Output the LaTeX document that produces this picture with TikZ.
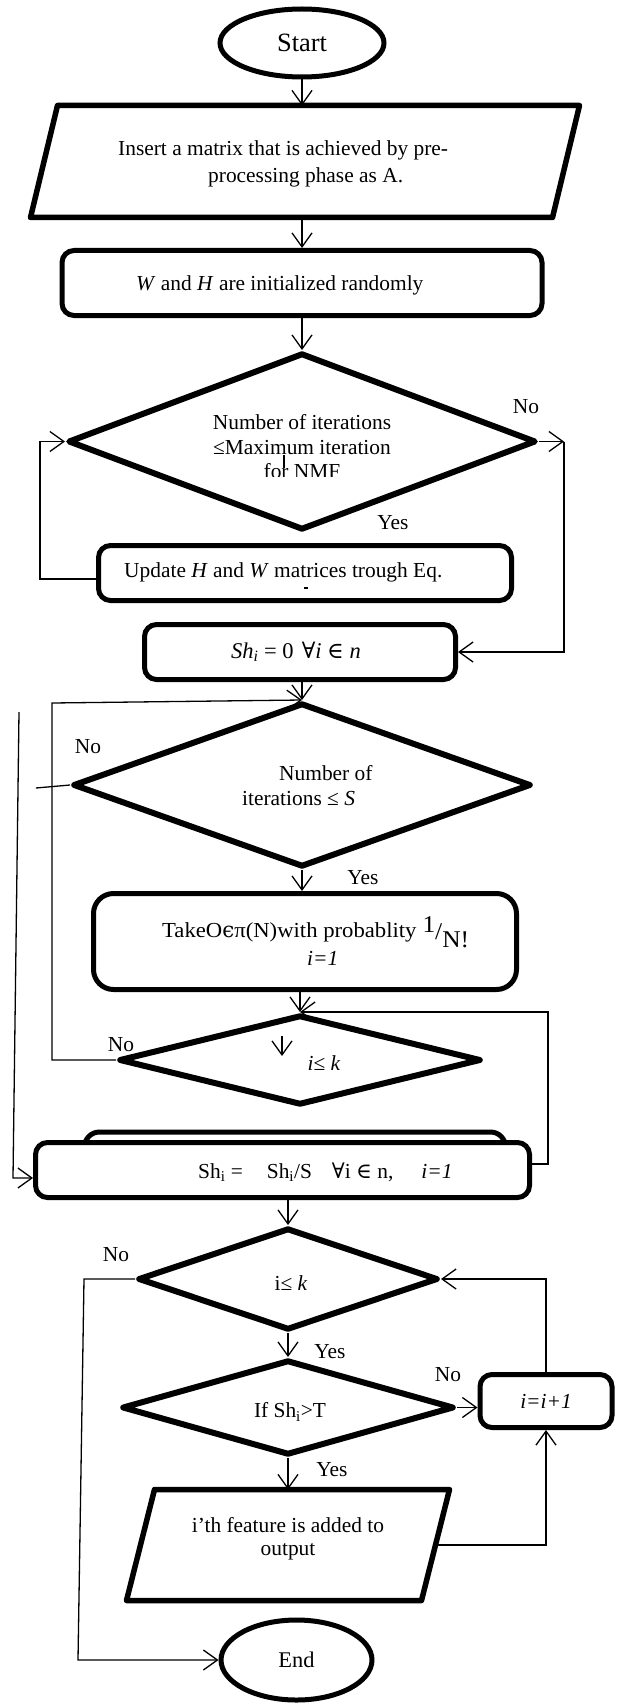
\documentclass[tikz,border=0pt]{standalone}
\usepackage{fontspec}
\setmainfont{Liberation Serif}
\newfontfamily\symf{DejaVu Serif}
\newfontfamily\wideserif[FakeStretch=1.06]{Liberation Serif}
\usetikzlibrary{shapes.geometric,arrows.meta,calc}
\tikzset{
  thickbox/.style={draw, line width=5pt, rounded corners=12pt, inner sep=0pt},
  dia/.style={draw, diamond, line width=6pt, line join=round, inner sep=0pt},
  ell/.style={draw, ellipse, line width=5pt, inner sep=0pt},
  parabox/.style={inner sep=0pt, outer sep=0pt},
  paraline/.style={line width=5.5pt, line join=round},
  conn/.style={line width=1.3pt},
  arr/.style={conn, -{Straight Barb[length=14pt,width=20pt,line width=1.3pt]}},
  lab/.style={inner sep=0pt},
}
\begin{document}
\begin{tikzpicture}[x=1pt,y=-1pt,font=\fontsize{21.4}{25}\selectfont]
\useasboundingbox (0,0) rectangle (622,1704);

% ---------- shapes ----------
\node[ell, minimum width=164pt, minimum height=68pt, font=\fontsize{26.4}{30}\selectfont] (start) at (302,43) {Start};

\node[parabox, minimum width=549pt, minimum height=112pt] (p1) at (305,161.5) {};
\draw[paraline] ($(p1.north west)+(27,0)$) -- (p1.north east) -- ($(p1.south east)+(-27,0)$) -- (p1.south west) -- cycle;
\node[lab, align=left, anchor=west, font=\fontsize{21.4}{27}\selectfont] (p1t) at (118,164)
  {Insert a matrix that is achieved by pre-\\\hspace*{90pt}processing phase as A.};

\node[thickbox, minimum width=480pt, minimum height=65pt] (wh) at (302,283) {};
\node[lab, anchor=west] (wht) at (136,285) {\textit{W} and \textit{H} are initialized randomly};

\node[dia, minimum width=468pt, minimum height=177pt] (d1) at (302,441.5) {};
\node[lab, align=center] (d1t) at (302,435) {Number of iterations\\≤Maximum iteration};
\begin{scope}
  \clip (150,455) rectangle (460,476.5);
  \node[lab] (d1t3) at (302,471) {for NMF};
\end{scope}
\draw[conn] (284,455) -- (284,468);
\node[lab] (no1) at (526,407) {No};
\begin{scope}
  \clip (360,505) rectangle (420,530);
  \node[lab] (yes1) at (393,523) {Yes};
\end{scope}

\node[thickbox, minimum width=413pt, minimum height=55pt] (upd) at (305,573) {};
\node[lab, anchor=west] (updt) at (124,572) {Update \textit{H} and \textit{W} matrices trough Eq.};
\draw[conn] (304,588) -- (308,588);

\node[thickbox, minimum width=311pt, minimum height=55pt] (sh) at (300,652) {};
\node[lab, anchor=base west, font=\fontsize{22.5}{26}\selectfont] (sht) at (231,658)
  {\textit{Sh}\textsubscript{\textit{i}} = 0\hspace{8pt}{\symf ∀}\textit{i} {\symf ∈} \textit{n}};

\node[dia, minimum width=458pt, minimum height=164pt] (d2) at (302,785) {};
\node[lab, align=left, anchor=west] (d2t) at (242,786) {\hspace*{37pt}Number of\\iterations ≤ \textit{S}};
\node[lab] (no2) at (88,747) {No};
\node[lab] (yes2) at (363,878) {Yes};

\node[thickbox, rounded corners=20pt, minimum width=423pt, minimum height=96pt] (take) at (305,941.5) {};
\node[lab, anchor=base west] (taket) at (162,937)
  {\wideserif TakeO{\symf ϵ}π(N)with probablity\hspace{6pt}{\fontsize{24}{26}\selectfont\raisebox{5pt}{1}\raisebox{-2pt}{/}\raisebox{-10pt}{N!}}};
\node[lab, anchor=base west] (taket2) at (307,965) {\textit{i=1}};

\node[dia, minimum width=362pt, minimum height=90pt] (d3) at (300,1060) {};
\node[lab] (d3t) at (324,1063) {\textit{i}≤ \textit{k}};
\draw[arr] (282,1036) -- (282,1056);
\node[lab] (no3) at (121,1045) {No};

\node[thickbox, rounded corners=15pt, minimum width=421pt, minimum height=56pt] (bg) at (295,1160) {};
\node[thickbox, fill=white, minimum width=494pt, minimum height=55pt] (big) at (282.5,1170) {};
\node[lab, anchor=west] (bigt) at (198,1172)
  {Sh\textsubscript{i} =\hspace{24pt}Sh\textsubscript{i}/S\hspace{20pt}{\symf ∀}i {\symf ∈} n,\hspace{28pt}\textit{i=1}};

\node[dia, minimum width=300pt, minimum height=102pt] (d4) at (288,1279) {};
\node[lab] (d4t) at (291,1283) {i≤ \textit{k}};
\node[lab] (no4) at (116,1255) {No};

\node[dia, minimum width=332pt, minimum height=95pt] (d5) at (288,1407.5) {};
\node[lab] (d5t) at (290,1412) {If Sh\textsubscript{i}>T};
\node[lab] (no5) at (448,1375) {No};
\node[lab] (yes4) at (330,1352) {Yes};

\node[thickbox, minimum width=132pt, minimum height=53pt] (inc) at (546,1401) {\textit{i=i+1}};

\node[parabox, minimum width=323pt, minimum height=111pt] (p2) at (288,1545) {};
\draw[paraline] ($(p2.north west)+(28,0)$) -- (p2.north east) -- ($(p2.south east)+(-28,0)$) -- (p2.south west) -- cycle;
\node[lab, align=center, font=\fontsize{21.4}{23}\selectfont] (p2t) at (288,1539) {i’th feature is added to\\output};
\node[lab] (yes5) at (332,1470) {Yes};

\node[ell, minimum width=151pt, minimum height=80pt, font=\fontsize{22.4}{26}\selectfont] (end) at (296.5,1660) {End};

% ---------- corner coordinates ----------
\coordinate (c1) at (564,441.5);
\coordinate (l1a) at (40,579);
\coordinate (l1b) at (40,441.5);
\coordinate (l2a) at (52,1060);
\coordinate (l2b) at (52,703);
\coordinate (l3a) at (19,712);
\coordinate (l3b) at (13,1178);
\coordinate (l3c) at (36,788);
\coordinate (r3a) at (548,1164);
\coordinate (r3b) at (548,1012);
\coordinate (l4a) at (84,1279);
\coordinate (l4b) at (78,1660);
\coordinate (p2r) at ($(p2.east)+(-14,0)$);

% ---------- connectors ----------
\draw[arr] (start.south) -- (start.south |- p1.north);
\draw[arr] (wh.north |- p1.south) -- (wh.north);
\draw[arr] (wh.south) -- (d1.north);
\draw[arr] (d1.east) -- (c1);
\draw[arr] (c1) |- (sh.east);
\draw[arr] (upd.west |- l1a) -- (l1a) -- (l1b) -- (d1.west);
\draw[arr] (d2.north |- sh.south) -- (d2.north);
\draw[arr] (d2.south) -- (d2.south |- take.north);
\draw[conn] (d2.west) -- (l3c);
\draw[arr] (l3a) -- (l3b) -- (big.west |- l3b);
\draw[arr] (take.south -| d3.north) -- (d3.north);
\draw[arr] (d3.west) -- (l2a) -- (l2b) -- (d2.north);
\draw[arr] (big.east |- r3a) -- (r3a) -- (r3b) -- (d3.north);
\draw[arr] (big.south -| d4.north) -- (d4.north);
\draw[arr] (d4.south) -- (d5.north);
\draw[arr] (d4.west) -- (l4a) -- (l4b) -- (end.west);
\draw[arr] (inc.north) -- (inc.north |- d4.east) -- (d4.east);
\draw[arr] (d5.east) -- (d5.east -| inc.west);
\draw[arr] (d5.south) -- (d5.south |- p2.north);
\draw[arr] (p2r) -- (p2r -| inc.south) -- (inc.south);
\end{tikzpicture}
\end{document}
